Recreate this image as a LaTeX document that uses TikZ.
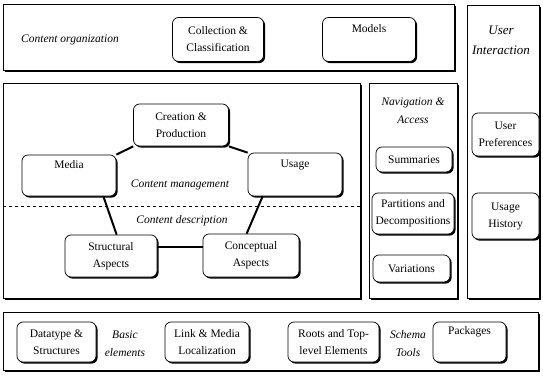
\documentclass[tikz,border=0pt]{standalone}
\usepackage{fontspec}
\setmainfont{Liberation Serif}
\usetikzlibrary{shadows}
\begin{document}
\begin{tikzpicture}[x=1pt,y=-1pt,
  panel/.style={draw, line width=0.7pt, fill=white, anchor=north west, inner sep=0pt,
    general shadow={fill=black, shadow xshift=2pt, shadow yshift=-2pt}},
  box/.style={draw, line width=0.7pt, fill=white, rounded corners=6pt, align=center,
    inner sep=1pt, font=\fontsize{11.5}{17}\selectfont,
    general shadow={fill=black, shadow xshift=1.6pt, shadow yshift=-1.6pt}},
  lbl/.style={align=center, inner sep=0pt, font=\fontsize{11.5}{18}\selectfont\itshape},
  link/.style={line width=2pt}]
\useasboundingbox (0,0) rectangle (543,377);
% panels
\node[panel, minimum width=451pt, minimum height=66pt] (top) at (3,4) {};
\node[panel, minimum width=357pt, minimum height=215pt] (mid) at (3,83) {};
\node[panel, minimum width=88pt, minimum height=215pt] (nav) at (369,83) {};
\node[panel, minimum width=72pt, minimum height=293pt] (ui) at (467,5) {};
\node[panel, minimum width=535pt, minimum height=58pt] (bot) at (3,312) {};
% labels
\node[lbl] (corg) at (70,40) {Content organization};
\node[lbl, font=\fontsize{13}{20}\selectfont\itshape] (uilbl) at (501,40) {User\\Interaction};
\node[lbl] (cman) at (180,185) {Content management};
\node[lbl] (cdesc) at (182,221) {Content description};
\node[lbl] (navlbl) at (413,111) {Navigation \&\\Access};
\node[lbl] (basic) at (125,344) {Basic\\elements};
\node[lbl] (schema) at (408,344) {Schema\\Tools};
% dashed separator
\coordinate (dl) at (3,206);
\coordinate (dr) at (360,206);
\draw[dashed, line width=0.5pt] (dl) -- (dr);
% top boxes
\node[box, minimum width=91pt, minimum height=44pt] (coll) at (218,39.5) {Collection \&\\Classification};
\node[box, minimum width=93pt, minimum height=44pt] (models) at (369,39.5) {Models\\\strut};
% content management boxes
\node[box, minimum width=95pt, minimum height=42pt] (creat) at (181,125) {Creation \&\\Production};
\node[box, minimum width=94pt, minimum height=41pt] (media) at (69,175.5) {Media\\\strut};
\node[box, minimum width=94pt, minimum height=43pt] (usage) at (295,174.5) {Usage\\\strut};
\node[box, minimum width=92pt, minimum height=42pt] (struct) at (111,256) {Structural\\Aspects};
\node[box, minimum width=96pt, minimum height=43pt] (concept) at (251,255.5) {Conceptual\\Aspects};
% navigation boxes
\node[box, minimum width=76pt, minimum height=25pt] (summ) at (414,159.5) {Summaries};
\node[box, minimum width=82pt, minimum height=41pt] (part) at (413,213.5) {Partitions and\\Decompositions};
\node[box, minimum width=77pt, minimum height=27pt] (var) at (411.5,268.5) {Variations};
% user interaction boxes
\node[box, minimum width=67pt, minimum height=43pt] (upref) at (505.5,134.5) {User\\Preferences};
\node[box, minimum width=67pt, minimum height=46pt] (uhist) at (505.5,216) {Usage\\History};
% bottom boxes
\node[box, minimum width=79pt, minimum height=40pt] (dtype) at (56.5,342) {Datatype \&\\Structures};
\node[box, minimum width=84pt, minimum height=40pt] (linkml) at (207,342) {Link \& Media\\Localization};
\node[box, minimum width=91pt, minimum height=40pt] (roots) at (333.5,342) {Roots and Top-\\level Elements};
\node[box, minimum width=73pt, minimum height=40pt] (pack) at (469.5,342) {Packages\\\strut};
% connectors
\draw[link] (creat.south west) -- (media.north east);
\draw[link] (creat.south east) -- (usage.north west);
\draw[link] ([xshift=-13pt]media.south east) -- ([xshift=52pt]struct.north west);
\draw[link] ([xshift=15pt]usage.south west) -- ([xshift=44pt]concept.north west);
\draw[link] ([yshift=9pt]struct.east) -- ([yshift=8.5pt]concept.west);
\end{tikzpicture}
\end{document}
